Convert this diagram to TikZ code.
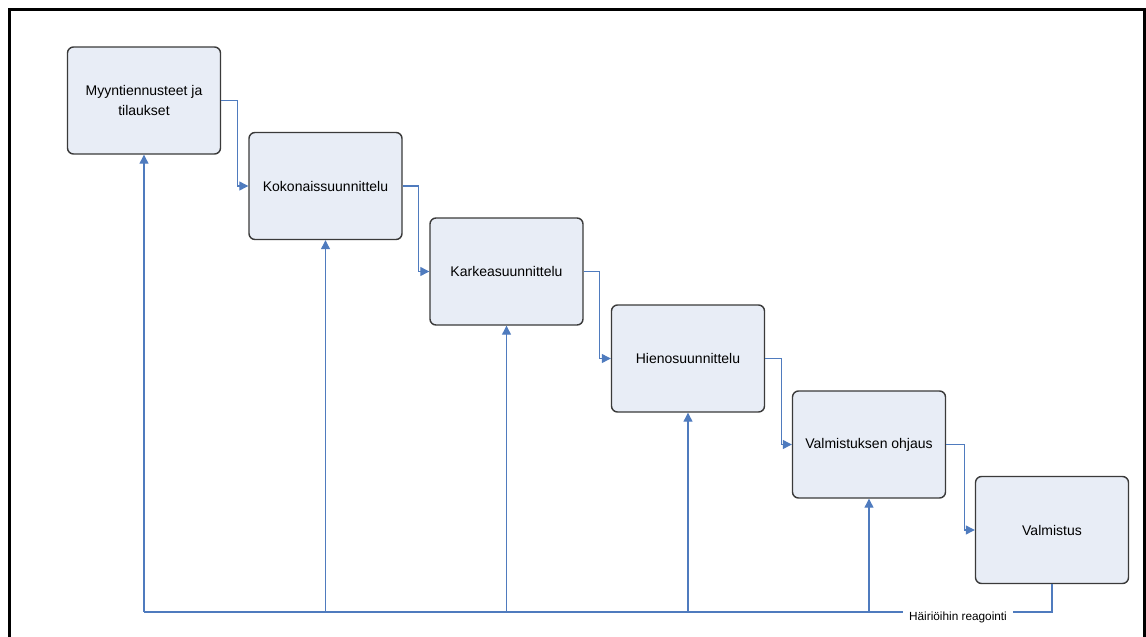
\documentclass[tikz,border=0pt]{standalone}
\usepackage{fontspec}
\setmainfont{Liberation Sans}
\usetikzlibrary{arrows.meta}
\definecolor{boxfill}{HTML}{E8EDF6}
\definecolor{boxline}{HTML}{3A3A3A}
\definecolor{flowblue}{HTML}{4F7BBE}
\tikzset{
  stage/.style={draw=boxline, line width=1.4pt, fill=boxfill, rounded corners=6pt,
    minimum width=153pt, minimum height=107pt, align=center,
    font=\fontsize{14}{20}\selectfont, inner sep=2pt},
  flow/.style={draw=flowblue, line width=1.2pt},
  flowarrow/.style={flow, -{Triangle[length=9pt,width=9pt]}},
  notelabel/.style={fill=white, inner xsep=6pt, inner ysep=1pt, font=\fontsize{11.8}{13}\selectfont}
}
\begin{document}
\begin{tikzpicture}[x=1pt, y=-1pt]
  \useasboundingbox (0,0) rectangle (1146,637);
  % outer frame, open at the bottom
  \draw[line width=3pt] (9,645) -- (9,9) -- (1144,9) -- (1144,645);

  % planning stages
  \node[stage] (b1) at (144,100.5) {Myyntiennusteet ja\\tilaukset};
  \node[stage] (b2) at (325.5,186) {Kokonaissuunnittelu};
  \node[stage] (b3) at (506.5,271.5) {Karkeasuunnittelu};
  \node[stage] (b4) at (688,358.5) {Hienosuunnittelu};
  \node[stage] (b5) at (869,444.5) {Valmistuksen ohjaus};
  \node[stage] (b6) at (1052,530) {Valmistus};

  % cascade from stage to stage
  \draw[flowarrow] (b1.east) -- ++(16,0) |- (b2.west);
  \draw[flowarrow] (b2.east) -- ++(16,0) |- (b3.west);
  \draw[flowarrow] (b3.east) -- ++(16,0) |- (b4.west);
  \draw[flowarrow] (b4.east) -- ++(16,0) |- (b5.west);
  \draw[flowarrow] (b5.east) -- ++(18,0) |- (b6.west);

  % disturbance feedback rail
  \coordinate (rail) at (144,612);
  \draw[flow] (b6.south) |- (rail);
  \foreach \b in {b1,b2,b3,b4,b5}
    \draw[flowarrow] (\b.south |- rail) -- (\b.south);
  \node[notelabel] (lab) at (958,617) {Häiriöihin reagointi};
\end{tikzpicture}
\end{document}
